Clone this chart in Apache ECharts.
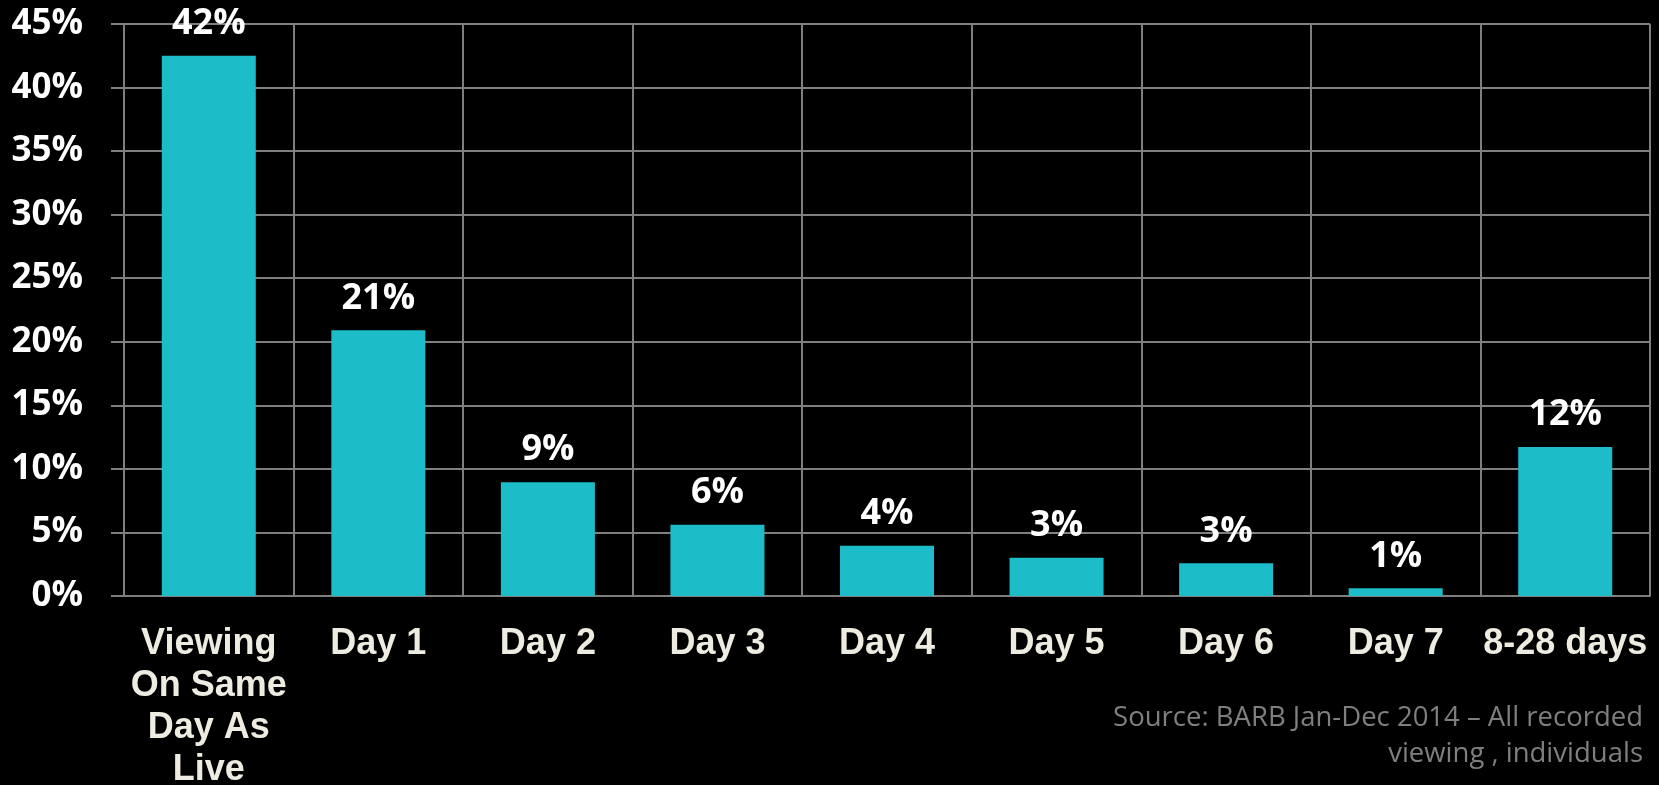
<!DOCTYPE html>
<html>
<head>
<meta charset="utf-8">
<script src="https://cdn.jsdelivr.net/npm/echarts@6/dist/echarts.min.js"></script>
<style>
    html, body { margin: 0; padding: 0; background: #000; }
    #chart { width: 1659px; height: 785px; }
</style>
</head>
<body>
<div id="chart"></div>
<script>
// share of recorded viewing by time since live broadcast
var categories = ['Viewing\nOn Same\nDay As\nLive', 'Day 1', 'Day 2', 'Day 3', 'Day 4', 'Day 5', 'Day 6', 'Day 7', '8-28 days'];
var shares = [42.5, 20.9, 8.95, 5.6, 3.95, 3.0, 2.57, 0.6, 11.73];
var shareLabels = [42, 21, 9, 6, 4, 3, 3, 1, 12];
var sourceLines = ['Source: BARB Jan-Dec 2014 \u2013 All recorded', 'viewing , individuals'];

var chart = echarts.init(document.getElementById('chart'));
var gridColor = '#7f7f7f';

var option = {
    backgroundColor: '#000',
    animation: false,
    grid: {
        left: 124,
        right: 9,
        top: 24,
        bottom: 189,
        containLabel: false,
        outerBoundsMode: 'none'
    },
    xAxis: {
        type: 'category',
        data: categories,
        axisLine: { lineStyle: { color: gridColor, width: 2 } },
        axisTick: { length: 10, lineStyle: { color: gridColor, width: 2 } },
        splitLine: { show: true, lineStyle: { color: gridColor, width: 2 } },
        axisLabel: {
            color: '#eeece1',
            fontFamily: 'Liberation Sans',
            fontWeight: 'bold',
            fontSize: 36,
            lineHeight: 42,
            margin: 27,
            interval: 0
        }
    },
    yAxis: {
        type: 'value',
        min: 0,
        max: 45,
        interval: 5,
        axisLine: { show: true, lineStyle: { color: gridColor, width: 2 } },
        axisTick: { show: true, length: 13, lineStyle: { color: gridColor, width: 2 } },
        splitLine: { lineStyle: { color: gridColor, width: 2 } },
        axisLabel: {
            formatter: '{value}%',
            color: '#fff',
            fontFamily: 'Open Sans',
            fontWeight: 'bold',
            fontSize: 35,
            padding: [6, 0, 0, 0],
            margin: 41
        }
    },
    series: [
        {
            type: 'bar',
            data: shares,
            barWidth: 94,
            itemStyle: { color: '#1cbdc8' },
            label: {
                show: true,
                position: 'top',
                distance: 14,
                color: '#fff',
                fontFamily: 'Open Sans',
                fontWeight: 'bold',
                fontSize: 36,
                lineHeight: 36,
                formatter: function (p) {
                    return shareLabels[p.dataIndex] + '%';
                }
            }
        }
    ],
    graphic: sourceLines.map(function (line, i) {
        return {
            type: 'text',
            right: 16,
            top: 704 + i * 36,
            style: {
                text: line,
                fill: '#7f7f7f',
                font: '27.5px "Open Sans"'
            }
        };
    })
};

chart.setOption(option);
</script>
</body>
</html>
